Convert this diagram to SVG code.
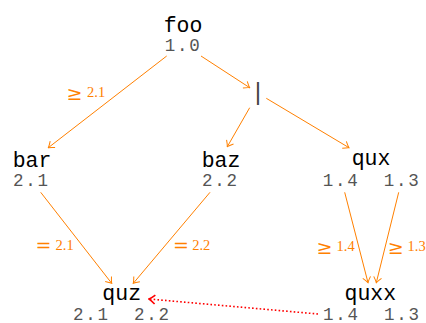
<svg xmlns="http://www.w3.org/2000/svg" width="426" height="323" viewBox="0 0 426 323">
<style>
.name{font-family:"Liberation Mono",monospace;font-size:21.5px;fill:#000;text-anchor:middle}
.ver{font-family:"Liberation Mono",monospace;font-size:17.5px;fill:#555;letter-spacing:1.8px}
.or{font-family:"Liberation Mono",monospace;font-size:24px;fill:#444;text-anchor:middle}
.lbl{font-family:"Liberation Serif",serif;font-size:14.5px;fill:#ff8000}
.sym{font-family:"DejaVu Serif",serif;font-size:19px;fill:#ff8000}
.e{fill:none;stroke:#ff8000;stroke-width:1}
.dep{fill:none;stroke:#ff0000;stroke-width:1.6;stroke-dasharray:1.6 2.2}
</style>
<defs>
<marker id="ao" viewBox="-7 -5 8 10" refX="0" refY="0" markerWidth="8" markerHeight="10" markerUnits="userSpaceOnUse" orient="auto">
<path d="M-5.5,-4 Q-2,-1 0,0 Q-2,1 -5.5,4" fill="none" stroke="#ff8000" stroke-width="1"/>
</marker>
<marker id="ar" viewBox="-8 -6 9 12" refX="0" refY="0" markerWidth="9" markerHeight="12" markerUnits="userSpaceOnUse" orient="auto">
<path d="M-6,-4.5 Q-2,-1 0,0 Q-2,1 -6,4.5" fill="none" stroke="#ff0000" stroke-width="1.6"/>
</marker>
</defs>
<g id="connectors">
<line class="e" x1="166.7" y1="56" x2="48.3" y2="147.7" marker-end="url(#ao)"/>
<line class="e" x1="201" y1="56" x2="249.7" y2="87.7" marker-end="url(#ao)"/>
<line class="e" x1="249.7" y1="107.7" x2="227.3" y2="146.7" marker-end="url(#ao)"/>
<line class="e" x1="266.3" y1="98.3" x2="349" y2="147.7" marker-end="url(#ao)"/>
<line class="e" x1="40.7" y1="192.3" x2="111.7" y2="283.3" marker-end="url(#ao)"/>
<line class="e" x1="210" y1="192.3" x2="133.3" y2="283.3" marker-end="url(#ao)"/>
<line class="e" x1="344.7" y1="192.3" x2="368" y2="282.7" marker-end="url(#ao)"/>
<line class="e" x1="398.7" y1="192.3" x2="376.3" y2="282.7" marker-end="url(#ao)"/>
<line class="dep" x1="318" y1="314" x2="149" y2="299" marker-end="url(#ar)"/>
<g id="edge-labels">
<text class="sym" x="66.5" y="100">≥</text><text class="lbl" x="87" y="96.7">2.1</text>
<text class="sym" x="35.5" y="252">=</text><text class="lbl" x="55.5" y="250">2.1</text>
<text class="sym" x="173" y="252">=</text><text class="lbl" x="192.2" y="250">2.2</text>
<text class="sym" x="316.5" y="254">≥</text><text class="lbl" x="336.5" y="250.7">1.4</text>
<text class="sym" x="387.8" y="254">≥</text><text class="lbl" x="407.5" y="250.7">1.3</text>
</g>
</g>
<g id="foo"><text class="name" x="183" y="31.5">foo</text><text class="ver" x="164.7" y="50.5">1.0</text></g>
<g id="or"><text class="or" x="258" y="100">|</text></g>
<g id="bar"><text class="name" x="32" y="166.5">bar</text><text class="ver" x="13" y="186">2.1</text></g>
<g id="baz"><text class="name" x="221" y="166.5">baz</text><text class="ver" x="202" y="186">2.2</text></g>
<g id="qux"><text class="name" x="371" y="164.5">qux</text><text class="ver" x="322.7" y="186">1.4</text><text class="ver" x="383.7" y="186">1.3</text></g>
<g id="quz"><text class="name" x="121.7" y="300">quz</text><text class="ver" x="73" y="319.5">2.1</text><text class="ver" x="134" y="319.5">2.2</text></g>
<g id="quxx"><text class="name" x="370.3" y="300">quxx</text><text class="ver" x="323" y="319.5">1.4</text><text class="ver" x="384" y="319.5">1.3</text></g>
</svg>
